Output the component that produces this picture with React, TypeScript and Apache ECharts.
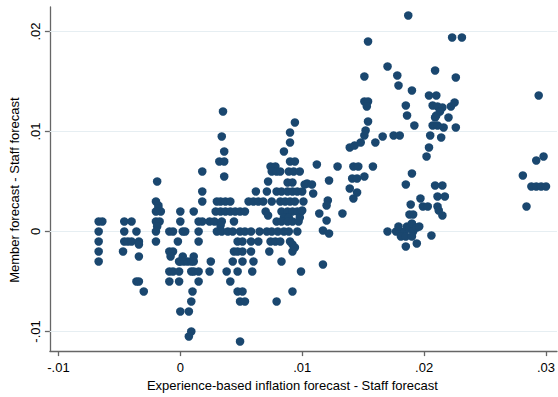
import React, { useEffect, useRef } from "react";
import * as echarts from "echarts";

// Points, grouped by region (x = experience-based - staff, y = member - staff)
const leftGroup: number[][] = [
  [-0.0067, 0.001], [-0.0064, 0.001], [-0.0067, 0], [-0.0067, -0.001], [-0.0067, -0.002], [-0.0067, -0.003],
  [-0.0046, 0.001], [-0.004, 0.001], [-0.0046, 0], [-0.0036, 0], [-0.0046, -0.001], [-0.0043, -0.001],
  [-0.004, -0.001], [-0.0034, -0.001], [-0.0034, -0.0013], [-0.0047, -0.002], [-0.0034, -0.0025],
  [-0.0036, -0.005], [-0.0034, -0.005], [-0.003, -0.006],
  [-0.0019, 0.005], [-0.002, 0.003], [-0.0018, 0.0026], [-0.0018, 0.0023], [-0.0016, 0.002], [-0.002, 0.002],
  [-0.002, 0.001], [-0.0017, 0.001], [-0.0019, 0.0005], [-0.002, 0], [-0.002, -0.001],
  [-0.0009, 0], [-0.0006, 0], [-0.0002, -0.001], [-0.0009, -0.002], [-0.0006, -0.002], [-0.0008, -0.0025],
  [-0.0001, -0.003], [-0.0009, -0.004], [-0.0006, -0.004], [-0.0001, -0.004], [-0.0009, -0.005], [-0.0001, -0.005],
];

const nearZeroGroup: number[][] = [
  [0, 0.002], [0, 0.001], [0.0002, 0], [0.0004, 0], [0.0003, -0.003], [0, -0.003], [0.0006, -0.003],
  [0.0009, -0.003], [0.0011, -0.003], [0.0002, -0.0025], [0.0011, -0.0025], [0.0009, -0.004], [0.0011, -0.004],
  [0.0015, -0.004], [0.0015, -0.005], [0.001, -0.006], [0.0009, -0.007], [0, -0.008], [0.0007, -0.008],
  [0.0009, -0.01], [0.0007, -0.0105], [0.0011, 0.002], [0.0015, 0.001], [0.0018, 0.001], [0.0015, 0],
  [0.0015, -0.001], [0.0018, 0.006], [0.0018, 0.004], [0.0018, 0.003],
];

const lowMidGroup: number[][] = [
  [0.0035, 0.012], [0.0034, 0.0095], [0.0036, 0.008], [0.0032, 0.007], [0.0036, 0.007], [0.0036, 0.0055],
  [0.0062, 0.004],
  [0.003, 0.003], [0.0033, 0.003], [0.0037, 0.003], [0.0041, 0.003], [0.0056, 0.003], [0.006, 0.003],
  [0.0064, 0.003], [0.0068, 0.003],
  [0.0029, 0.002], [0.0033, 0.002], [0.0037, 0.002], [0.0041, 0.002], [0.0045, 0.002], [0.0049, 0.002],
  [0.0053, 0.002],
  [0.0024, 0.001], [0.0028, 0.001], [0.0034, 0.001], [0.0044, 0.001], [0.0033, 0.0006],
  [0.003, 0], [0.0034, 0], [0.0039, 0], [0.0043, 0], [0.0049, 0], [0.0053, 0], [0.0058, 0], [0.0065, 0],
  [0.0047, -0.001], [0.0051, -0.001], [0.0058, -0.001], [0.0064, -0.001],
  [0.0044, -0.002], [0.0047, -0.002], [0.0051, -0.002], [0.0058, -0.002],
  [0.0025, -0.003], [0.0043, -0.003], [0.0051, -0.003], [0.006, -0.003],
  [0.0024, -0.004], [0.0038, -0.004], [0.0047, -0.004], [0.0059, -0.004],
  [0.0041, -0.005], [0.0047, -0.006], [0.0051, -0.006], [0.0049, -0.007], [0.0053, -0.007], [0.0049, -0.011],
];

const midGroup: number[][] = [
  [0.0072, 0.005], [0.0071, 0.004], [0.007, 0.002], [0.0072, 0.0016],
  [0.0074, 0.0065], [0.0078, 0.0065], [0.0075, 0.006], [0.0079, 0.006], [0.0082, 0.006],
  [0.0085, 0.008], [0.009, 0.0099], [0.009, 0.0089], [0.0094, 0.0109], [0.009, 0.007], [0.0094, 0.007],
  [0.0089, 0.006], [0.0093, 0.006], [0.0098, 0.006], [0.0088, 0.0049], [0.0092, 0.0049], [0.0104, 0.0048],
  [0.0079, 0.004], [0.0083, 0.004], [0.0088, 0.004], [0.0092, 0.004], [0.0096, 0.004], [0.01, 0.004],
  [0.0075, 0.003], [0.0082, 0.003], [0.0086, 0.003], [0.009, 0.003], [0.0094, 0.003],
  [0.0083, 0.002], [0.0088, 0.002], [0.0092, 0.002], [0.0096, 0.002], [0.0099, 0.002],
  [0.0085, 0.0014], [0.0089, 0.0014], [0.0098, 0.0014],
  [0.0079, 0.001], [0.0083, 0.001], [0.0088, 0.001], [0.0092, 0.001], [0.0097, 0.001],
  [0.0071, 0], [0.0075, 0], [0.008, 0], [0.0085, 0], [0.0089, 0], [0.0096, 0],
  [0.0074, -0.001], [0.0078, -0.001], [0.0082, -0.001], [0.009, -0.001], [0.0092, -0.0013],
  [0.0073, -0.002], [0.0092, -0.002], [0.0094, -0.0016],
  [0.0083, -0.003], [0.0099, -0.004], [0.0092, -0.006], [0.0079, -0.007],
];

const upperMidGroup: number[][] = [
  [0.0112, 0.0067], [0.0129, 0.0065], [0.0142, 0.0065], [0.0146, 0.0065], [0.0158, 0.0065],
  [0.0141, 0.0053], [0.0145, 0.0053], [0.0151, 0.0055], [0.0122, 0.0051], [0.0102, 0.0047], [0.0108, 0.0047],
  [0.0109, 0.0038], [0.0139, 0.0043], [0.0145, 0.0039], [0.0142, 0.0033], [0.0121, 0.0031], [0.012, 0.0026],
  [0.0101, 0.003], [0.01, 0.0021], [0.0114, 0.0018], [0.0133, 0.0018], [0.012, 0.0011], [0.0117, 0.0001],
  [0.0122, -0.0002], [0.0117, -0.0033],
  [0.0139, 0.0084], [0.0143, 0.0086], [0.0148, 0.0089], [0.0151, 0.0096], [0.0152, 0.0101], [0.0154, 0.011],
  [0.0151, 0.013], [0.0154, 0.013], [0.0153, 0.0125], [0.0151, 0.0155], [0.0154, 0.019],
  [0.016, 0.0089], [0.0166, 0.0095],
];

const highGroup: number[][] = [
  [0.017, 0.0165], [0.0178, 0.0156], [0.0179, 0.0146], [0.0175, 0.0096], [0.018, 0.0096],
  [0.0187, 0.0216], [0.0223, 0.0194], [0.0231, 0.0194], [0.0209, 0.0161], [0.0226, 0.0154], [0.019, 0.0141],
  [0.0204, 0.0136], [0.021, 0.0136], [0.0185, 0.0126], [0.0186, 0.0116], [0.0192, 0.0106],
  [0.0207, 0.0126], [0.0211, 0.0125], [0.0215, 0.0124], [0.0213, 0.012], [0.021, 0.0116],
  [0.0222, 0.0125], [0.0225, 0.0129], [0.022, 0.0114], [0.0209, 0.0114], [0.0207, 0.0106], [0.0211, 0.0106],
  [0.0216, 0.0104], [0.0226, 0.0104], [0.0205, 0.0096], [0.0214, 0.0094], [0.0204, 0.0084], [0.0202, 0.0075],
  [0.019, 0.0058], [0.0185, 0.0047], [0.0209, 0.0046], [0.0215, 0.0046], [0.0211, 0.0035], [0.0217, 0.0035],
  [0.0197, 0.0033], [0.0189, 0.0027], [0.0199, 0.0025], [0.0203, 0.0025], [0.0211, 0.0025], [0.0212, 0.0021],
  [0.0215, 0.0016], [0.0188, 0.0017], [0.0191, 0.0017],
  [0.017, 0], [0.0177, 0], [0.018, 0], [0.0179, 0.0005], [0.0184, 0], [0.0181, -0.0005], [0.0185, -0.0005],
  [0.0186, 0.0005], [0.0188, 0.0003], [0.019, 0.0008], [0.0191, 0], [0.0194, 0.0004], [0.0196, 0.0005],
  [0.019, -0.0005], [0.0185, -0.0015], [0.0194, -0.0012], [0.0206, -0.0004],
];

const farRightGroup: number[][] = [
  [0.0294, 0.0136], [0.0292, 0.0071], [0.0298, 0.0075], [0.0281, 0.0056], [0.0288, 0.0045],
  [0.0292, 0.0045], [0.0296, 0.0045], [0.03, 0.0045], [0.0284, 0.0025],
];

const xTicks = [-0.01, 0, 0.01, 0.02, 0.03];
const yTicks = [-0.01, 0, 0.01, 0.02];
const xRange = [-0.0107, 0.0309];
const yRange = [-0.01196, 0.02245];
const xTitle = "Experience-based inflation forecast - Staff forecast";
const yTitle = "Member forecast - Staff forecast";

const fmt = (v: number) => {
  if (Math.abs(v) < 1e-9) return "0";
  const s = (Math.round(v * 100) / 100).toString();
  return s.replace("0.", ".");
};

const FONT = "'Liberation Sans', Arial, Helvetica, sans-serif";

export default function App() {
  const ref = useRef<HTMLDivElement>(null);
  useEffect(() => {
    document.body.style.margin = "0";
    if (!ref.current) return;
    const chart = echarts.init(ref.current, undefined, { renderer: "svg" });
    const allPoints = [
      ...leftGroup, ...nearZeroGroup, ...lowMidGroup, ...midGroup,
      ...upperMidGroup, ...highGroup, ...farRightGroup,
    ];
    const axisLine = { show: true, onZero: false, lineStyle: { color: "#666666", width: 1.3 } };
    const gridSeries = yTicks.map((v) => ({
      type: "line",
      z: 1,
      silent: true,
      symbol: "none",
      data: [[xRange[0], v], [xRange[1], v]],
      lineStyle: { color: "#e6eef2", width: 1 },
    }));
    chart.setOption({
      animation: false,
      backgroundColor: "#ffffff",
      grid: { left: 48, right: 0, top: 7, bottom: 39, containLabel: false },
      xAxis: {
        type: "value",
        min: xRange[0],
        max: xRange[1],
        axisLine,
        axisTick: { show: true, customValues: xTicks, length: 5, lineStyle: { color: "#666666", width: 1.3 } },
        axisLabel: {
          customValues: xTicks,
          formatter: fmt,
          color: "#000",
          fontSize: 13,
          fontFamily: FONT,
          margin: 10,
        },
        splitLine: { show: false },
        name: xTitle,
        nameLocation: "middle",
        nameGap: 23,
        nameTextStyle: { color: "#000", fontSize: 13, fontFamily: FONT, padding: [0, 22, 0, 0] },
      },
      yAxis: {
        type: "value",
        min: yRange[0],
        max: yRange[1],
        axisLine,
        axisTick: { show: true, customValues: yTicks, length: 5, lineStyle: { color: "#666666", width: 1.3 } },
        axisLabel: {
          customValues: yTicks,
          formatter: fmt,
          rotate: 90,
          color: "#000",
          fontSize: 13,
          fontFamily: FONT,
          margin: 8,
        },
        splitLine: { show: false },
        name: yTitle,
        nameLocation: "middle",
        nameRotate: 90,
        nameGap: 25,
        nameTextStyle: { color: "#000", fontSize: 13, fontFamily: FONT, padding: [0, 22, 0, 0] },
      },
      series: [
        ...gridSeries,
        {
          type: "scatter",
          z: 3,
          data: allPoints,
          symbol: "circle",
          symbolSize: 8.5,
          itemStyle: { color: "#1a476f", opacity: 1 },
        },
      ],
    });
    return () => chart.dispose();
  }, []);
  return <div ref={ref} style={{ width: 558, height: 397 }} />;
}
